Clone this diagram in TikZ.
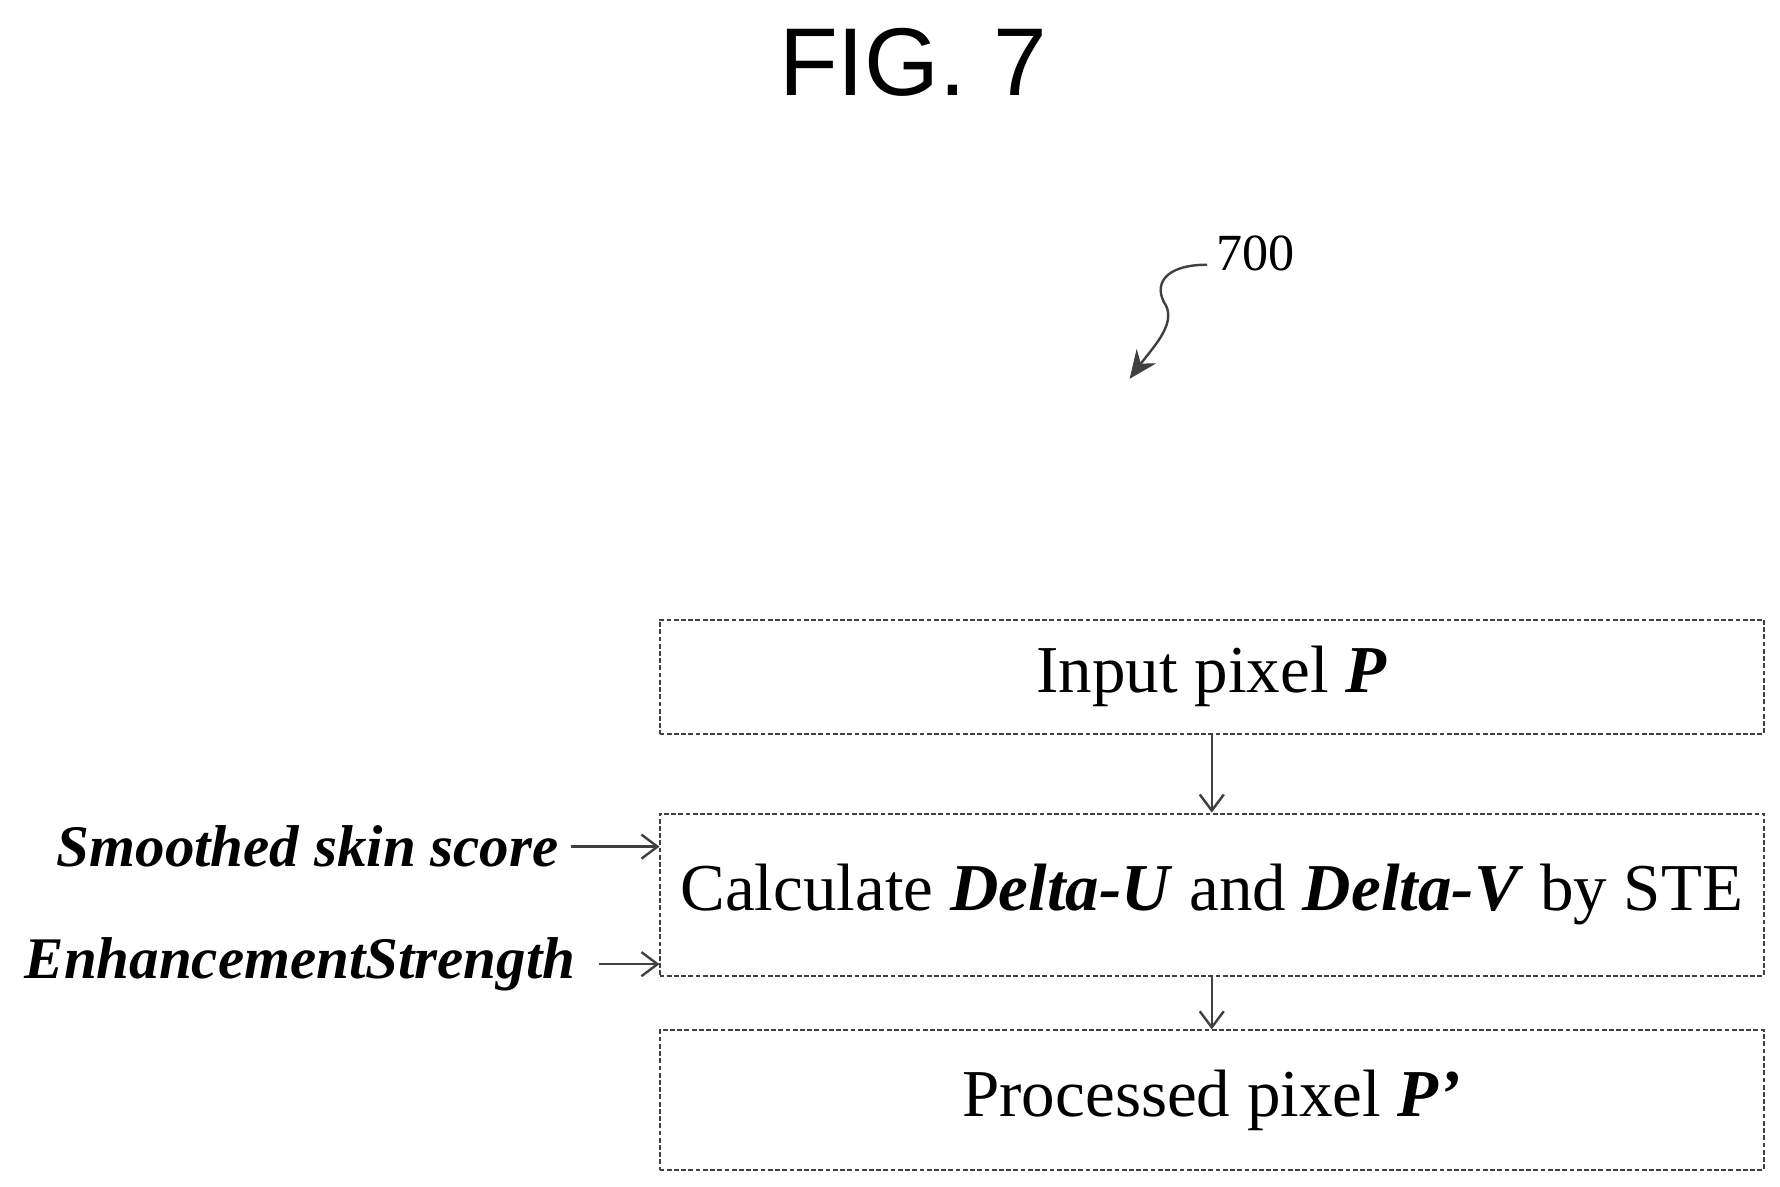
\documentclass[tikz,border=0pt]{standalone}
\usepackage{fontspec}
\setmainfont{Liberation Serif}
\newfontfamily\figsans{Liberation Sans}
\usetikzlibrary{arrows.meta}
\begin{document}
\begin{tikzpicture}[x=0.01cm,y=-0.01cm,
  box/.style={draw=black!75,line width=0.5pt,dash pattern=on 1.2pt off 0.6pt,minimum width=968*0.01cm,inner sep=0pt,font=\fontsize{16.7}{19}\selectfont},
  arr/.style={draw=black!75,line width=0.6pt,-{Straight Barb[length=4pt,width=6pt]}},
  lab/.style={font=\fontsize{14.7}{17}\selectfont\bfseries\itshape,anchor=east,inner sep=0pt}]
\useasboundingbox (0,0) rectangle (1560,1040);
\node[font=\figsans\fontsize{24}{28}\selectfont] (title) at (800,55) {FIG. 7};
\node[font=\fontsize{13}{15}\selectfont] (ref) at (1100,222) {700};
\coordinate (tip) at (990,332);
\draw[draw=black!75,line width=0.6pt,-{Stealth[length=7pt,width=6pt]}] (1058,232) .. controls (1020,232) and (1010,250) .. (1022,268) .. controls (1030,285) and (1010,305) .. (tip);
\node[box,minimum height=100*0.01cm] (in) at (1062,593) {Input pixel \textbf{\textit{P}}};
\node[box,minimum height=142*0.01cm] (calc) at (1062,784) {Calculate \textbf{\textit{Delta-U}} and \textbf{\textit{Delta-V}} by STE};
\node[box,minimum height=122*0.01cm] (out) at (1062,964) {Processed pixel \textbf{\textit{P’}}};
\draw[arr] (in.south) -- (calc.north);
\draw[arr] (calc.south) -- (out.north);
\node[lab] (s) at (490,742) {Smoothed skin score};
\node[lab] (e) at (505,845) {EnhancementStrength};
\coordinate (s2) at (578,742);
\coordinate (e2) at (578,845);
\draw[arr] ([xshift=10*0.01cm]s.east) -- (s2);
\draw[arr] ([xshift=20*0.01cm]e.east) -- (e2);
\end{tikzpicture}
\end{document}
